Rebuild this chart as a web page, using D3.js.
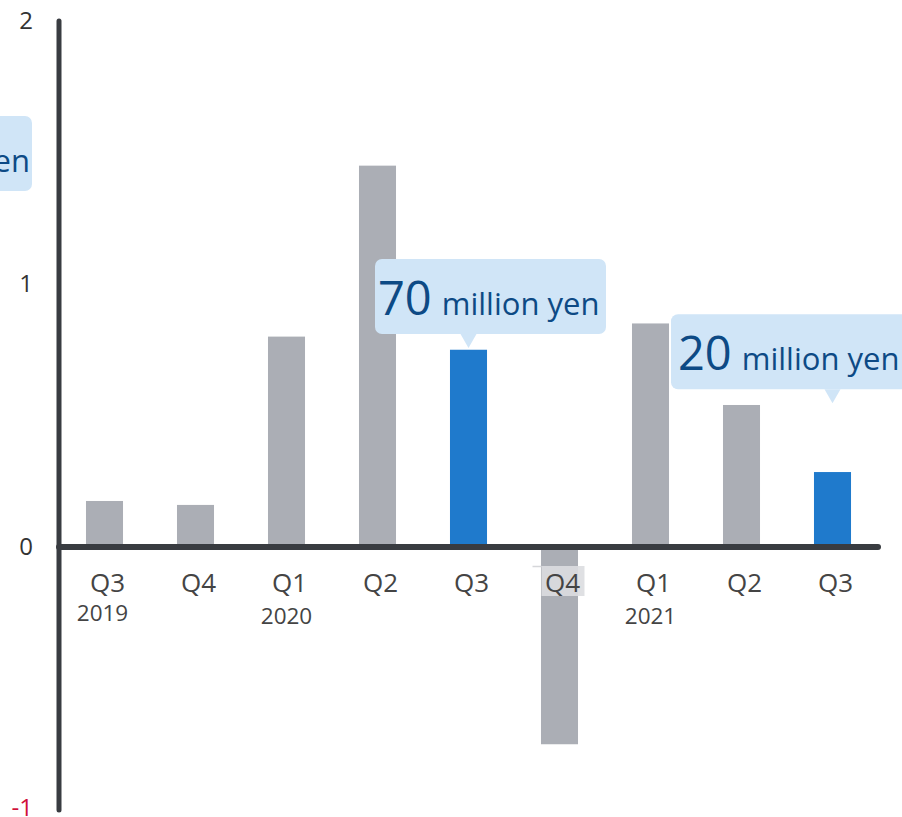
<!DOCTYPE html>
<html>
<head>
<meta charset="utf-8">
<script src="https://cdn.jsdelivr.net/npm/d3@7"></script>
<style>
  html, body { margin: 0; padding: 0; background: #fff; overflow: hidden; }
  svg { display: block; }
  text { font-family: "Open Sans", "Noto Sans", sans-serif; }
</style>
</head>
<body>
<svg id="chart" width="902" height="817"></svg>
<script>
// Quarterly results (hundred million yen)
const quarters = ["Q3", "Q4", "Q1", "Q2", "Q3", "Q4", "Q1", "Q2", "Q3"];
const years = ["2019", "", "2020", "", "", "", "2021", "", ""];
const values = [0.175, 0.16, 0.80, 1.45, 0.75, -0.75, 0.85, 0.54, 0.285];
const highlighted = [false, false, false, false, true, false, false, false, true];
const yTicks = [-1, 0, 1, 2];

// Callouts on highlighted bars
const calloutBars = [4, 8];
const calloutNumbers = ["70", "20"];
const calloutUnit = "million yen";

const svg = d3.select("#chart");

const x = d3.scaleBand()
  .domain(d3.range(quarters.length))
  .range([59, 878])
  .paddingInner(0.593)
  .paddingOuter(0.2965);

const y = d3.scaleLinear().domain([-1, 2]).range([810, 21]);

const axisColor = "#393c41";
const grey = "#abaeb5";
const blue = "#1f7acc";
const calloutFill = "#d0e5f7";
const calloutText = "#0d4a85";

// Bars
svg.append("g").selectAll("rect")
  .data(values)
  .join("rect")
  .attr("x", (d, i) => x(i))
  .attr("width", x.bandwidth())
  .attr("y", d => y(Math.max(0, d)))
  .attr("height", d => Math.abs(y(d) - y(0)))
  .attr("fill", (d, i) => highlighted[i] ? blue : grey);

// Vertical axis line
svg.append("line")
  .attr("x1", 59).attr("x2", 59)
  .attr("y1", y(2)).attr("y2", y(-1))
  .attr("stroke", axisColor).attr("stroke-width", 5)
  .attr("stroke-linecap", "round");

// Zero baseline
svg.append("line")
  .attr("x1", 59).attr("x2", 878)
  .attr("y1", y(0)).attr("y2", y(0))
  .attr("stroke", axisColor).attr("stroke-width", 6)
  .attr("stroke-linecap", "round");

// Y tick labels
svg.append("g").selectAll("text")
  .data(yTicks)
  .join("text")
  .attr("x", 33)
  .attr("y", d => y(d) + (d < 0 ? 6 : 8))
  .attr("text-anchor", "end")
  .attr("font-size", 24)
  .attr("fill", d => d < 0 ? "#d0103a" : "#333")
  .text(d => d);

// Quarter labels (with a backdrop where the label sits on a negative bar)
const xl = svg.append("g");
quarters.forEach((q, i) => {
  const mid = x(i) + x.bandwidth() / 2;
  const cx = mid + 3;
  if (values[i] < 0) {
    xl.append("rect")
      .attr("x", cx - 21).attr("y", 566)
      .attr("width", 43).attr("height", 30)
      .attr("fill", "#dcdde0").attr("opacity", 0.9);
    xl.append("line")
      .attr("x1", cx - 30).attr("x2", cx - 21)
      .attr("y1", 566.5).attr("y2", 566.5)
      .attr("stroke", "#d6d7da").attr("stroke-width", 1.5);
  }
  xl.append("text")
    .attr("x", cx).attr("y", 592)
    .attr("text-anchor", "middle")
    .attr("font-size", 26)
    .attr("fill", "#444")
    .text(q);
  if (years[i]) {
    xl.append("text")
      .attr("x", mid - (i === 0 ? 2 : 0)).attr("y", i === 0 ? 621 : 624)
      .attr("text-anchor", "middle")
      .attr("font-size", 22.5)
      .attr("fill", "#444")
      .text(years[i]);
  }
});

// Callouts
const boxH = 75;
const boxLayout = [
  { left: -93.5, bottom: y(0.81), pad: 3, width: 231 },
  { left: -161.5, bottom: y(0.60), pad: 7, width: 250 }
];

function callout(g, bx, by, w, tipX, number, pad, anchorEnd) {
  g.append("rect")
    .attr("x", bx).attr("y", by)
    .attr("width", w).attr("height", boxH)
    .attr("rx", 7).attr("ry", 7)
    .attr("fill", calloutFill);
  if (tipX !== null) {
    g.append("path")
      .attr("d", `M${tipX - 8},${by + boxH} L${tipX},${by + boxH + 14} L${tipX + 8},${by + boxH} Z`)
      .attr("fill", calloutFill);
  }
  const t = g.append("text")
    .attr("x", anchorEnd ? bx + w - pad : bx + pad)
    .attr("y", by + 56)
    .attr("text-anchor", anchorEnd ? "end" : "start")
    .attr("fill", calloutText);
  if (number) {
    t.append("tspan").attr("font-size", 47).text(number);
    t.append("tspan").attr("font-size", 31).attr("dx", 10).text(calloutUnit);
  } else {
    t.append("tspan").attr("font-size", 31).text(calloutUnit);
  }
}

const cg = svg.append("g");
calloutBars.forEach((bi, k) => {
  const cx = x(bi) + x.bandwidth() / 2;
  const L = boxLayout[k];
  callout(cg, cx + L.left, L.bottom - boxH, L.width, cx, calloutNumbers[k], L.pad, false);
});
// Callout for an earlier quarter, scrolled mostly out of view on the left
callout(cg, -199, 116, 231, null, null, 2, true);
</script>
</body>
</html>
